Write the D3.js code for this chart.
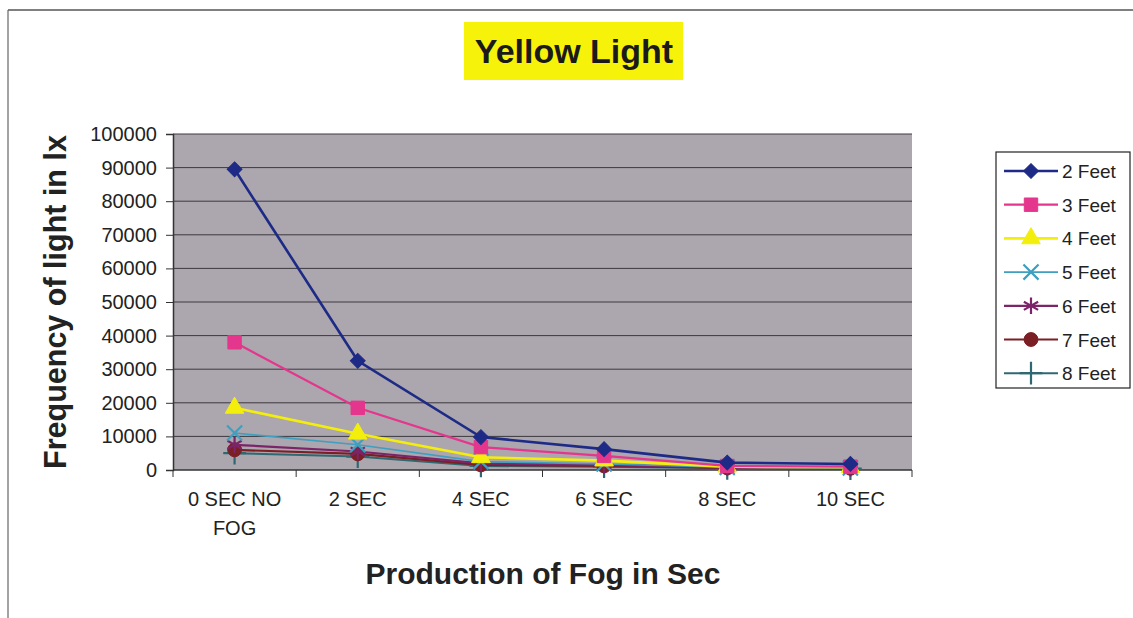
<!DOCTYPE html>
<html>
<head>
<meta charset="utf-8">
<script src="https://cdn.jsdelivr.net/npm/d3@7"></script>
<style>
  html, body { margin: 0; padding: 0; background: #ffffff; }
  svg { display: block; font-family: "Liberation Sans", Arial, sans-serif; }
</style>
</head>
<body>
<svg id="chart" width="1133" height="618"></svg>
<script>
// Fog duration categories (x axis)
const categories = ["0 SEC NO FOG", "2 SEC", "4 SEC", "6 SEC", "8 SEC", "10 SEC"];

// Light readings (lx) at each distance
const feet2 = [89500, 32500, 9800, 6200, 2200, 1800];
const feet3 = [38000, 18500, 6800, 4200, 1200, 1000];
const feet4 = [18500, 10800, 3800, 2800, 1000, 800];
const feet5 = [11000, 7500, 2500, 1800, 800, 600];
const feet6 = [7500, 5500, 2000, 1500, 700, 500];
const feet7 = [6000, 4800, 1500, 1200, 600, 500];
const feet8 = [5000, 4000, 1200, 1000, 500, 400];

const seriesNames = ["2 Feet", "3 Feet", "4 Feet", "5 Feet", "6 Feet", "7 Feet", "8 Feet"];
const yTicks = [0, 10000, 20000, 30000, 40000, 50000, 60000, 70000, 80000, 90000, 100000];

const seriesValues = [feet2, feet3, feet4, feet5, feet6, feet7, feet8];
const colors = ["#1e2b86", "#e4368c", "#f4ee0c", "#3f9fbf", "#7b2468", "#7c1f25", "#2e6870"];
// 2 Feet uses a square turned 45 degrees (a diamond with equal diagonals)
const symbols = [d3.symbolSquare, d3.symbolSquare, d3.symbolTriangle, d3.symbolTimes,
                 d3.symbolAsterisk, d3.symbolCircle, d3.symbolPlus];
const symRotate = [45, 0, 0, 0, 0, 0, 0];
const filledSym = [true, true, true, false, false, true, false];
const symSize = [110, 180, 150, 150, 190, 150, 170];
const lineW = [2.6, 2.2, 2.6, 1.6, 2.2, 2.2, 2.0];

const svg = d3.select("#chart");

// outer chart frame
svg.append("line").attr("x1", 8).attr("y1", 10).attr("x2", 1133).attr("y2", 10)
  .attr("stroke", "#555").attr("stroke-width", 1.5);
svg.append("line").attr("x1", 8).attr("y1", 10).attr("x2", 8).attr("y2", 618)
  .attr("stroke", "#666").attr("stroke-width", 1.2);

// title
svg.append("rect").attr("x", 464).attr("y", 22).attr("width", 219).attr("height", 58)
  .attr("fill", "#f7f20a");
svg.append("text").attr("x", 574).attr("y", 63).attr("text-anchor", "middle")
  .attr("font-size", 34).attr("font-weight", "bold").attr("fill", "#1a1a1a")
  .text("Yellow Light");

const plot = { left: 173, right: 912, top: 134, bottom: 470 };

const x = d3.scaleBand().domain(categories).range([plot.left, plot.right]).padding(0);
const y = d3.scaleLinear().domain([0, 100000]).range([plot.bottom, plot.top]);
const cx = c => x(c) + x.bandwidth() / 2;

// plot area
svg.append("rect").attr("x", plot.left).attr("y", plot.top)
  .attr("width", plot.right - plot.left).attr("height", plot.bottom - plot.top)
  .attr("fill", "#aca6ae");

// gridlines
svg.append("g").selectAll("line").data(yTicks.filter(d => d > 0)).join("line")
  .attr("x1", plot.left).attr("x2", plot.right)
  .attr("y1", d => y(d)).attr("y2", d => y(d))
  .attr("stroke", "#3c3a3e").attr("stroke-width", 1);

// y axis
const yAxis = svg.append("g").attr("transform", `translate(${plot.left},0)`)
  .call(d3.axisLeft(y).tickValues(yTicks).tickSize(7).tickPadding(9).tickFormat(d3.format("d")));
yAxis.select(".domain").attr("stroke", "#333").attr("stroke-width", 1.5);
yAxis.selectAll(".tick line").attr("stroke", "#333");
yAxis.selectAll("text").attr("font-size", 20).attr("fill", "#222")
  .attr("font-family", "Liberation Sans, Arial, sans-serif");

// x axis: ticks on category boundaries, labels centred
const xAxis = svg.append("g").attr("transform", `translate(0,${plot.bottom})`);
xAxis.append("line").attr("x1", plot.left).attr("x2", plot.right)
  .attr("stroke", "#333").attr("stroke-width", 1.5);
const bounds = categories.map(c => x(c)).concat([plot.right]);
xAxis.selectAll("line.tk").data(bounds).join("line").attr("class", "tk")
  .attr("x1", d => d).attr("x2", d => d).attr("y1", 0).attr("y2", 7)
  .attr("stroke", "#333");
const xl = xAxis.selectAll("text").data(categories).join("text")
  .attr("x", d => cx(d)).attr("y", 36).attr("text-anchor", "middle")
  .attr("font-size", 20).attr("fill", "#222");
xl.each(function (d) {
  const t = d3.select(this);
  if (d === "0 SEC NO FOG") {
    t.append("tspan").attr("x", cx(d)).text("0 SEC NO");
    t.append("tspan").attr("x", cx(d)).attr("dy", 29).text("FOG");
  } else {
    t.text(d);
  }
});

// axis titles
svg.append("text").attr("x", 543).attr("y", 584).attr("text-anchor", "middle")
  .attr("font-size", 30).attr("font-weight", "bold").attr("fill", "#222")
  .text("Production of Fog in Sec");
svg.append("text").attr("transform", "translate(66,302) rotate(-90)")
  .attr("text-anchor", "middle").attr("font-size", 30.5).attr("font-weight", "bold")
  .attr("fill", "#222").text("Frequency of light in lx");

// series lines and markers (draw the far series first so 2 Feet sits on top)
const line = d3.line().x((d, i) => cx(categories[i])).y(d => y(d));
const order = d3.range(seriesValues.length).reverse();

function markerStyle(sel, i, px, py) {
  sel.attr("d", d3.symbol(symbols[i], symSize[i]))
    .attr("fill", filledSym[i] ? colors[i] : "none")
    .attr("stroke", colors[i])
    .attr("stroke-width", filledSym[i] ? 1 : 2.2);
}

order.forEach(i => {
  const g = svg.append("g");
  g.append("path").datum(seriesValues[i]).attr("d", line)
    .attr("fill", "none").attr("stroke", colors[i]).attr("stroke-width", lineW[i]);
  g.selectAll("path.mk").data(seriesValues[i]).join("path").attr("class", "mk")
    .attr("transform", (d, k) => `translate(${cx(categories[k])},${y(d)}) rotate(${symRotate[i]})`)
    .call(markerStyle, i);
});

// legend
const leg = svg.append("g");
leg.append("rect").attr("x", 996).attr("y", 152).attr("width", 134).attr("height", 236)
  .attr("fill", "#fff").attr("stroke", "#222").attr("stroke-width", 1.2);
seriesNames.forEach((name, i) => {
  const ly = 171 + i * 33.7;
  leg.append("line").attr("x1", 1004).attr("x2", 1058).attr("y1", ly).attr("y2", ly)
    .attr("stroke", colors[i]).attr("stroke-width", lineW[i]);
  leg.append("path").attr("transform", `translate(1031,${ly}) rotate(${symRotate[i]})`)
    .call(markerStyle, i);
  leg.append("text").attr("x", 1062).attr("y", ly + 7).attr("font-size", 19)
    .attr("fill", "#222").text(name);
});
</script>
</body>
</html>
